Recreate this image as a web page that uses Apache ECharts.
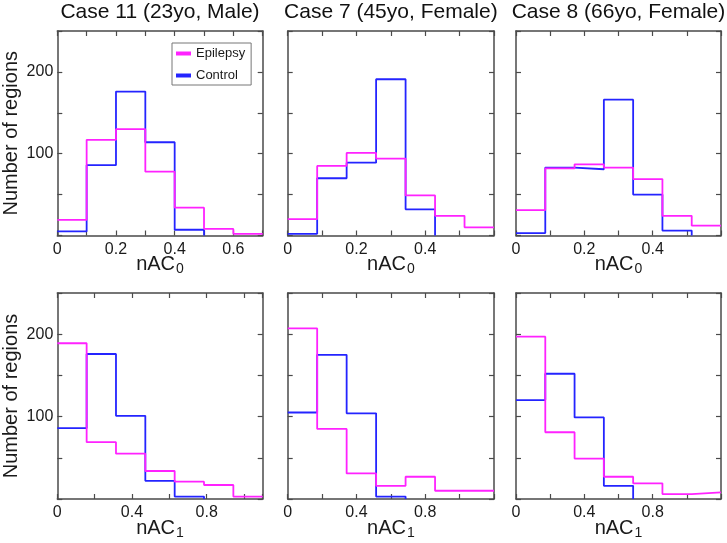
<!DOCTYPE html>
<html><head><meta charset="utf-8">
<script src="https://cdn.jsdelivr.net/npm/echarts@6/dist/echarts.min.js"></script>
<style>html,body{margin:0;padding:0;background:#fff}#c{width:727px;height:543px}</style>
</head><body><div id="c"></div><script>
// ---- data ----
const caseTitles = ['Case 11 (23yo, Male)', 'Case 7 (45yo, Female)', 'Case 8 (66yo, Female)'];
const measureSubscripts = ['0', '1'];
const seriesNames = ['Epilepsy', 'Control'];
const nBins = 7;
const xMaxRow0 = [0.7, 0.6, 0.6];
const xMaxRow1 = [1.1, 1.2, 1.2];
const xTickStepRow = [0.1, 0.2];
const xLabelStepRow = [0.2, 0.4];
const yMax = 250;
const yTickStep = 50;
const yTickLabels = [100, 200];

// counts per bin (nAC0 row)
const epiCase11_nAC0 = [19, 117, 130, 78, 34, 8, 2];
const ctlCase11_nAC0 = [5, 86, 176, 114, 7, 0, 0];
const epiCase7_nAC0  = [20, 85, 101, 94, 49, 24, 10];
const ctlCase7_nAC0  = [2, 70, 89, 191, 32, 0, 0];
const epiCase8_nAC0  = [31, 82, 87, 83, 69, 24, 12];
const ctlCase8_nAC0  = [3, 83, 81, 166, 50, 6, 0];
// counts per bin (nAC1 row)
const epiCase11_nAC1 = [189, 69, 55, 34, 21, 17, 3];
const ctlCase11_nAC1 = [86, 176, 101, 22, 3, 0, 0];
const epiCase7_nAC1  = [207, 85, 31, 16, 27, 10, 10];
const ctlCase7_nAC1  = [105, 175, 104, 3, 0, 0, 0];
const epiCase8_nAC1  = [197, 81, 49, 27, 19, 6, 8];
const ctlCase8_nAC1  = [120, 152, 99, 16, 0, 0, 0];

const panelData = [
  [epiCase11_nAC0, ctlCase11_nAC0], [epiCase7_nAC0, ctlCase7_nAC0], [epiCase8_nAC0, ctlCase8_nAC0],
  [epiCase11_nAC1, ctlCase11_nAC1], [epiCase7_nAC1, ctlCase7_nAC1], [epiCase8_nAC1, ctlCase8_nAC1]
];

// ---- layout / style ----
const gridLefts = [57.3, 287.7, 516];
const gridWidths = [205.4, 206.3, 205];
const gridTops = [31, 293];
const gridHeights = [204.5, 206];
const colors = {Epilepsy: '#ff22ff', Control: '#2424ff'};
const axisColor = '#4a4a4a';
const FONT = '"Liberation Sans", Arial, sans-serif';

function stepPoints(counts, xMax) {
  const w = xMax / nBins;
  let last = counts.length - 1;
  while (last > 0 && counts[last] === 0) last--;
  const pts = [];
  for (let i = 0; i <= last; i++) {
    pts.push([i * w, counts[i]]);
    pts.push([(i + 1) * w, counts[i]]);
  }
  if (last < counts.length - 1) pts.push([(last + 1) * w, 0]);
  return pts;
}
function multipleOf(v, step) {
  const k = v / step;
  return Math.abs(k - Math.round(k)) < 1e-6;
}

const grids = [], xAxes = [], yAxes = [], series = [], titles = [];
for (let r = 0; r < 2; r++) {
  for (let c = 0; c < 3; c++) {
    const p = r * 3 + c;
    const xMax = r === 0 ? xMaxRow0[c] : xMaxRow1[c];
    grids.push({left: gridLefts[c], top: gridTops[r], width: gridWidths[c], height: gridHeights[r],
      containLabel: false, outerBoundsMode: 'none'});
    const common = {
      gridIndex: p, type: 'value', min: 0,
      splitLine: {show: false},
      axisLine: {show: true, onZero: false, lineStyle: {color: axisColor, width: 1.5}},
      axisTick: {show: true, inside: true, length: 5, lineStyle: {color: axisColor, width: 1.2}}
    };
    const xLabelStep = xLabelStepRow[r];
    xAxes.push(Object.assign({}, common, {
      position: 'bottom', max: xMax, interval: xTickStepRow[r],
      axisLabel: {show: true, margin: 6, fontSize: 16, color: '#1a1a1a', fontFamily: FONT,
        showMinLabel: true, showMaxLabel: true,
        formatter: v => multipleOf(v, xLabelStep) && v <= xMax - 1e-9 ? String(+v.toFixed(1)) : ''},
      name: '{a|nAC}{b|' + measureSubscripts[r] + '}',
      nameLocation: 'middle', nameGap: 19, nameMoveOverlap: false,
      nameTextStyle: {rich: {
        a: {fontSize: 20, fontFamily: FONT, color: '#1a1a1a', lineHeight: 22, verticalAlign: 'top'},
        b: {fontSize: 14, fontFamily: FONT, color: '#1a1a1a', lineHeight: 14, padding: [14, 0, 0, 1], verticalAlign: 'bottom'}
      }}
    }));
    xAxes.push(Object.assign({}, common, {
      position: 'top', max: xMax, interval: xTickStepRow[r], axisLabel: {show: false}
    }));
    yAxes.push(Object.assign({}, common, {
      position: 'left', max: yMax, interval: yTickStep,
      axisLabel: {show: c === 0, margin: 4, fontSize: 16, color: '#1a1a1a', fontFamily: FONT,
        formatter: v => yTickLabels.indexOf(v) >= 0 ? String(v) : ''},
      name: c === 0 ? 'Number of regions' : '',
      nameLocation: 'middle', nameGap: 36, nameMoveOverlap: false,
      nameTextStyle: {fontSize: 20, fontFamily: FONT, color: '#1a1a1a'}
    }));
    yAxes.push(Object.assign({}, common, {
      position: 'right', max: yMax, interval: yTickStep, axisLabel: {show: false}
    }));
    // control first so epilepsy is drawn on top
    [1, 0].forEach(si => {
      const name = seriesNames[si];
      series.push({
        type: 'line', name: name, xAxisIndex: 2 * p, yAxisIndex: 2 * p,
        data: stepPoints(panelData[p][si], xMax),
        symbol: 'none', animation: false,
        lineStyle: {color: colors[name], width: 1.8},
        itemStyle: {color: colors[name]}
      });
    });
  }
}
for (let c = 0; c < 3; c++) {
  titles.push({text: caseTitles[c], left: gridLefts[c] + gridWidths[c] / 2, top: 2, padding: 0, textAlign: 'center',
    textStyle: {fontSize: 21, fontWeight: 'normal', color: '#111', fontFamily: FONT}});
}

const chart = echarts.init(document.getElementById('c'), null, {renderer: 'canvas'});
chart.setOption({
  animation: false,
  backgroundColor: '#fff',
  title: titles,
  legend: {
    data: seriesNames, orient: 'vertical', left: 172, top: 43,
    icon: 'rect', itemWidth: 15, itemHeight: 4, itemGap: 9,
    padding: [4, 6, 3, 4], borderColor: '#777', borderWidth: 1,
    textStyle: {fontSize: 13, fontFamily: FONT, color: '#1a1a1a'}
  },
  grid: grids, xAxis: xAxes, yAxis: yAxes, series: series
});
</script></body></html>
